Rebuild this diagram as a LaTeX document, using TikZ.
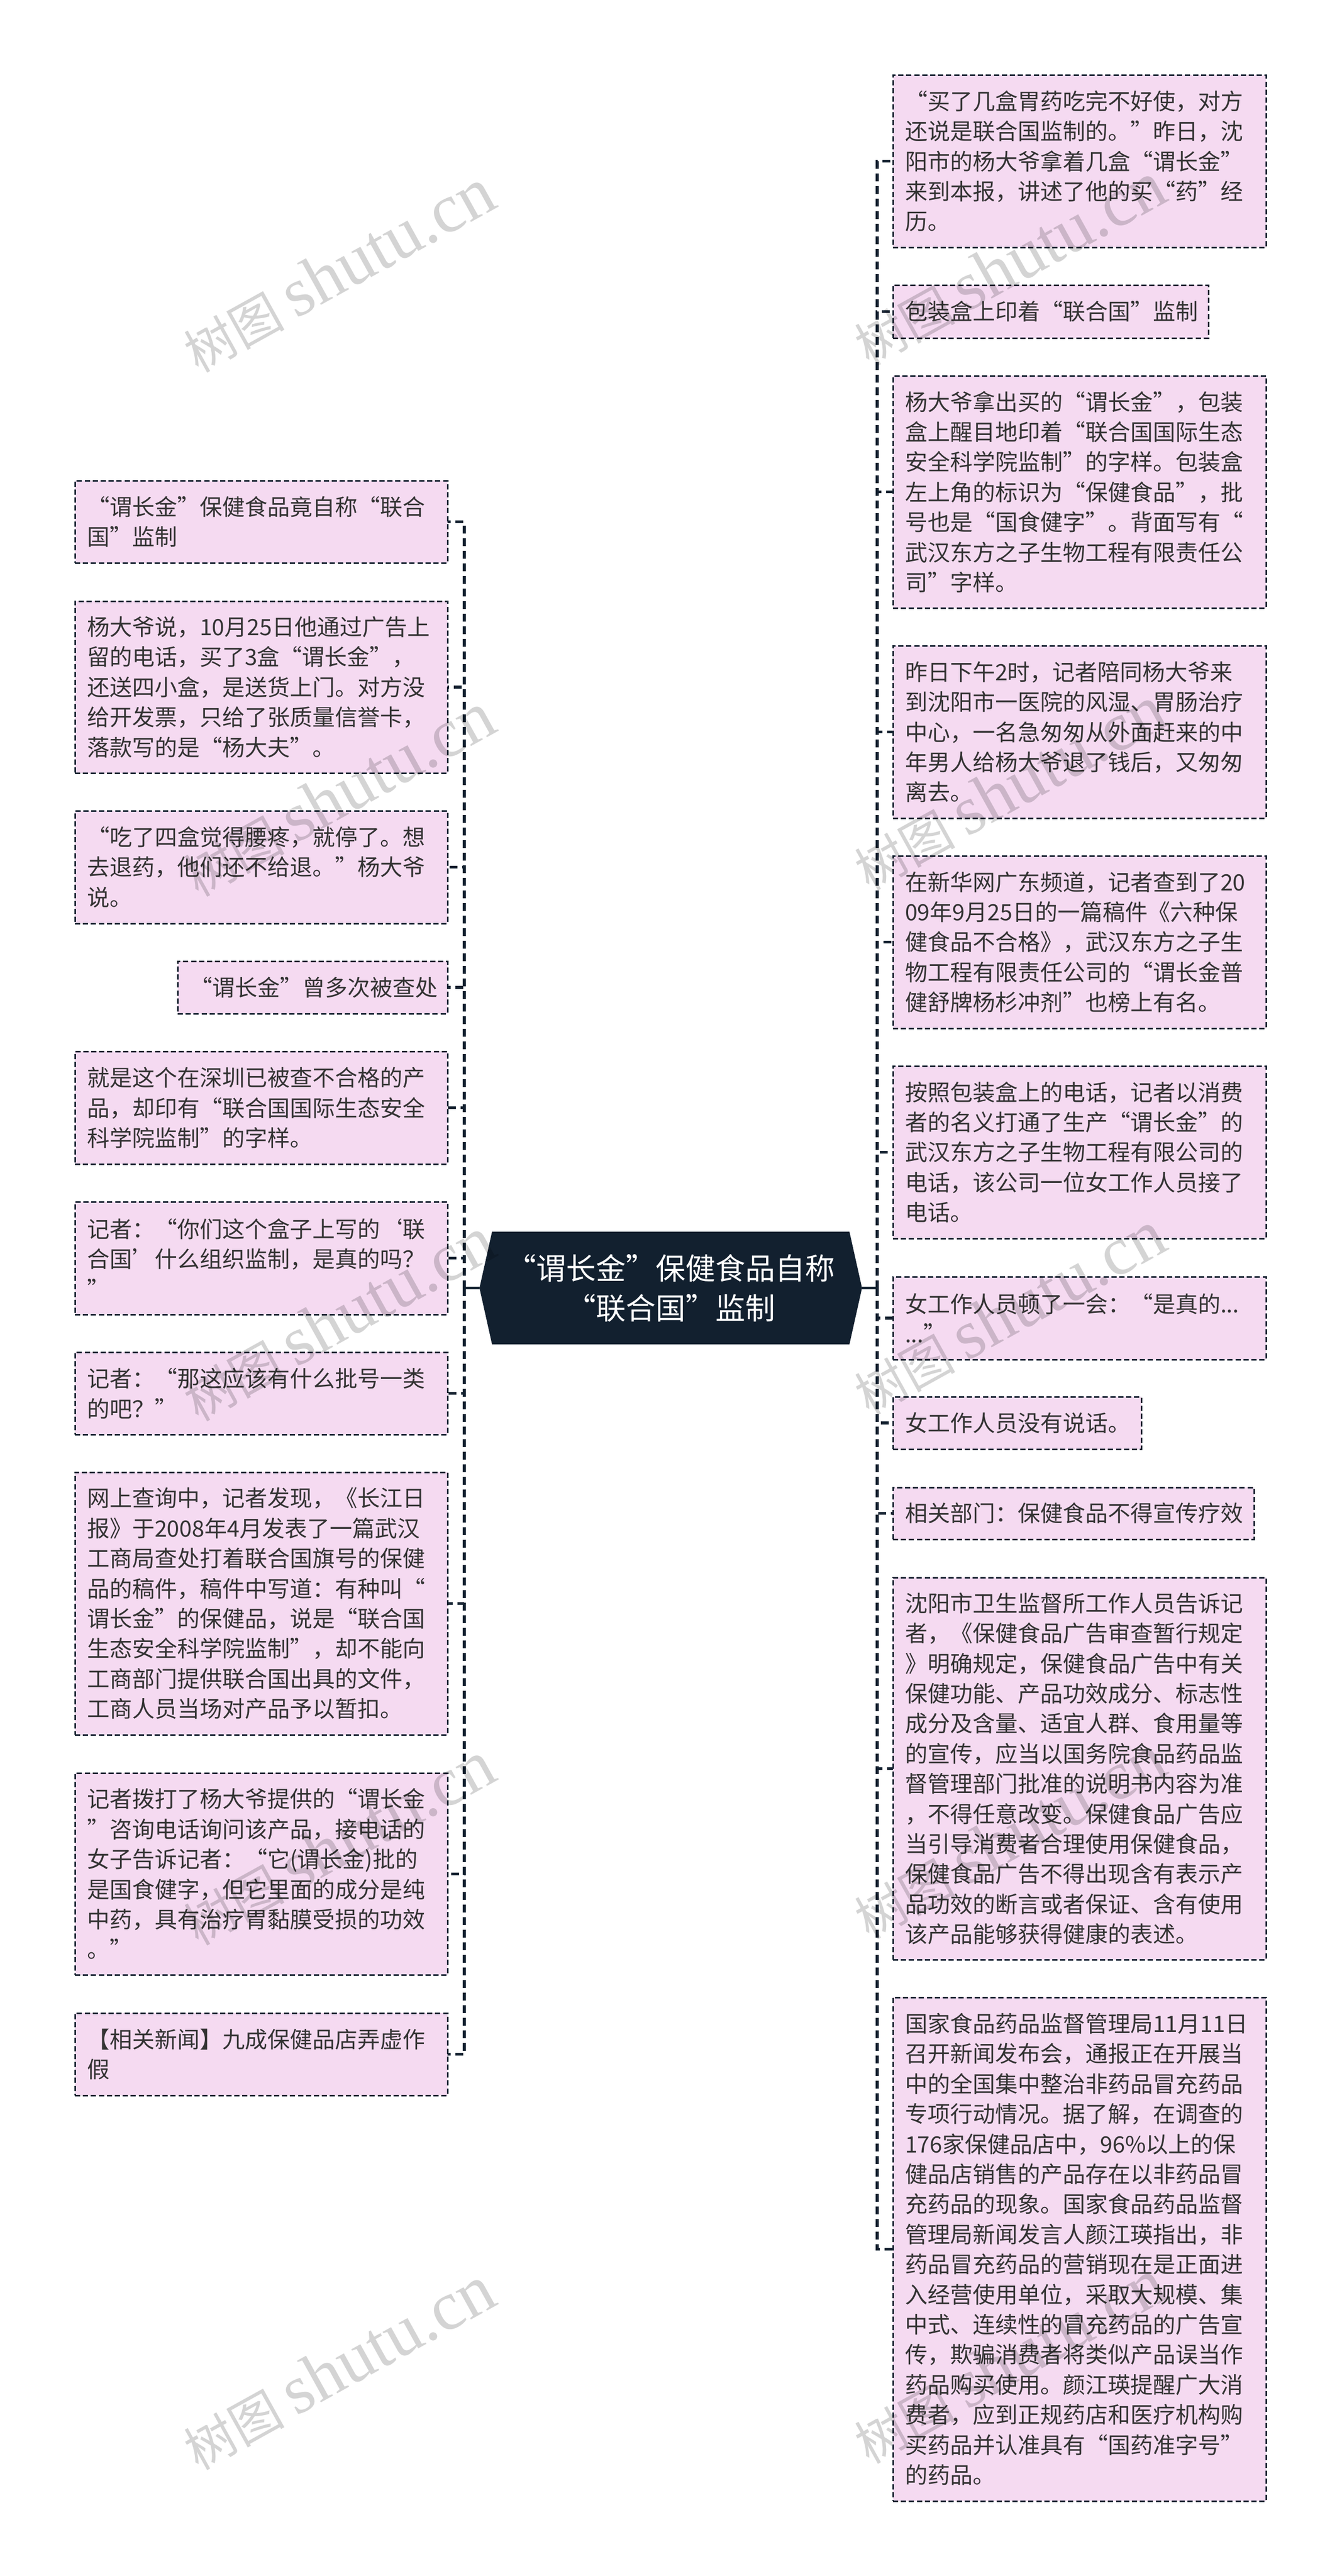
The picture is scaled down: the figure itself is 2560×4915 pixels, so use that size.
\documentclass[tikz,border=0pt]{standalone}
\usepackage{fontspec}
\setmainfont{Noto Sans CJK SC}
\newfontfamily\wmlatin{Liberation Serif}
\hfuzz=200pt
\hbadness=10000
\definecolor{ink}{HTML}{12202F}
\definecolor{boxfill}{HTML}{F5DAF1}
\definecolor{bodytext}{HTML}{333333}
\tikzset{
  x=0.5pt, y=-0.5pt,
  textbox/.style={rectangle, anchor=north west, draw=ink, fill=boxfill, text=bodytext, line width=1.5pt,
    dash pattern=on 5pt off 2.6pt, inner xsep=11.5pt, inner ysep=0pt, outer sep=0pt, align=left,
    font=\fontsize{21.5}{28.7}\selectfont},
  conn/.style={draw=ink, line width=2.6pt, dash pattern=on 7.5pt off 4.5pt},
  stub/.style={draw=ink, line width=2.6pt},
  title/.style={rectangle, text=white, align=center, inner sep=0pt, outer sep=0pt,
    minimum width=365pt, minimum height=107.5pt, font=\fontsize{28.5}{38}\selectfont},
  wmark/.style={rotate=29, text=black, text opacity=0.17, inner sep=0pt, font=\fontsize{48}{48}\selectfont},
}
\newcommand{\pbox}[6]{\node[textbox, minimum width={(#4-#2)*0.5pt}, minimum height={(#5-#3)*0.5pt}, text width={(#4-#2-46)*0.5pt}] (#1) at (#2,#3) {#6};}
\newcommand{\wm}[3]{\node[wmark] (#1) at (#2,#3) {树图 {\wmlatin\fontsize{66}{66}\selectfont shutu.cn}};}
\begin{document}
\begin{tikzpicture}
\useasboundingbox (0,0) rectangle (2560,4915);
\fill[white] (0,0) rectangle (2560,4915);
% centre
\fill[ink] (915,2457.5) -- (939,2350) -- (1621,2350) -- (1645,2457.5) -- (1621,2565) -- (939,2565) -- cycle;
\node[title] (hex) at (1280,2457.5) {“谓长金”保健食品自称\\“联合国”监制};
\coordinate (tl) at (886,2457.5);
\coordinate (tr) at (1674,2457.5);
% left
\pbox{L1}{143}{917}{854}{1074}{“谓长金”保健食品竟自称“联合\\国”监制}
\pbox{L2}{143}{1147}{854}{1475}{杨大爷说，10月25日他通过广告上\\留的电话，买了3盒“谓长金”，\\还送四小盒，是送货上门。对方没\\给开发票，只给了张质量信誉卡，\\落款写的是“杨大夫”。}
\pbox{L3}{143}{1547}{854}{1762}{“吃了四盒觉得腰疼，就停了。想\\去退药，他们还不给退。”杨大爷\\说。}
\pbox{L4}{339}{1834}{854}{1934}{“谓长金”曾多次被查处}
\pbox{L5}{143}{2006}{854}{2221}{就是这个在深圳已被查不合格的产\\品，却印有“联合国国际生态安全\\科学院监制”的字样。}
\pbox{L6}{143}{2293}{854}{2508}{记者：“你们这个盒子上写的‘联\\合国’什么组织监制，是真的吗？\\”}
\pbox{L7}{143}{2580}{854}{2737}{记者：“那这应该有什么批号一类\\的吧？”}
\pbox{L8}{143}{2809}{854}{3310}{网上查询中，记者发现，《长江日\\报》于2008年4月发表了一篇武汉\\工商局查处打着联合国旗号的保健\\品的稿件，稿件中写道：有种叫“\\谓长金”的保健品，说是“联合国\\生态安全科学院监制”，却不能向\\工商部门提供联合国出具的文件，\\工商人员当场对产品予以暂扣。}
\pbox{L9}{143}{3383}{854}{3768}{记者拨打了杨大爷提供的“谓长金\\”咨询电话询问该产品，接电话的\\女子告诉记者：“它(谓长金)批的\\是国食健字，但它里面的成分是纯\\中药，具有治疗胃黏膜受损的功效\\。”}
\pbox{L10}{143}{3841}{854}{3998}{【相关新闻】九成保健品店弄虚作\\假}
% right
\pbox{R1}{1704}{143}{2416}{472}{“买了几盒胃药吃完不好使，对方\\还说是联合国监制的。”昨日，沈\\阳市的杨大爷拿着几盒“谓长金”\\来到本报，讲述了他的买“药”经\\历。}
\pbox{R2}{1704}{544}{2306}{645}{包装盒上印着“联合国”监制}
\pbox{R3}{1704}{717}{2416}{1160}{杨大爷拿出买的“谓长金”，包装\\盒上醒目地印着“联合国国际生态\\安全科学院监制”的字样。包装盒\\左上角的标识为“保健食品”，批\\号也是“国食健字”。背面写有“\\武汉东方之子生物工程有限责任公\\司”字样。}
\pbox{R4}{1704}{1232}{2416}{1561}{昨日下午2时，记者陪同杨大爷来\\到沈阳市一医院的风湿、胃肠治疗\\中心，一名急匆匆从外面赶来的中\\年男人给杨大爷退了钱后，又匆匆\\离去。}
\pbox{R5}{1704}{1633}{2416}{1962}{在新华网广东频道，记者查到了20\\09年9月25日的一篇稿件《六种保\\健食品不合格》，武汉东方之子生\\物工程有限责任公司的“谓长金普\\健舒牌杨杉冲剂”也榜上有名。}
\pbox{R6}{1704}{2034}{2416}{2363}{按照包装盒上的电话，记者以消费\\者的名义打通了生产“谓长金”的\\武汉东方之子生物工程有限公司的\\电话，该公司一位女工作人员接了\\电话。}
\pbox{R7}{1704}{2436}{2416}{2594}{女工作人员顿了一会：“是真的...\\...”}
\pbox{R8}{1704}{2665}{2178}{2765}{女工作人员没有说话。}
\pbox{R9}{1704}{2838}{2393}{2937}{相关部门：保健食品不得宣传疗效}
\pbox{R10}{1704}{3010}{2416}{3739}{沈阳市卫生监督所工作人员告诉记\\者，《保健食品广告审查暂行规定\\》明确规定，保健食品广告中有关\\保健功能、产品功效成分、标志性\\成分及含量、适宜人群、食用量等\\的宣传，应当以国务院食品药品监\\督管理部门批准的说明书内容为准\\，不得任意改变。保健食品广告应\\当引导消费者合理使用保健食品，\\保健食品广告不得出现含有表示产\\品功效的断言或者保证、含有使用\\该产品能够获得健康的表述。}
\pbox{R11}{1704}{3811}{2416}{4772}{国家食品药品监督管理局11月11日\\召开新闻发布会，通报正在开展当\\中的全国集中整治非药品冒充药品\\专项行动情况。据了解，在调查的\\176家保健品店中，96\%以上的保\\健品店销售的产品存在以非药品冒\\充药品的现象。国家食品药品监督\\管理局新闻发言人颜江瑛指出，非\\药品冒充药品的营销现在是正面进\\入经营使用单位，采取大规模、集\\中式、连续性的冒充药品的广告宣\\传，欺骗消费者将类似产品误当作\\药品购买使用。颜江瑛提醒广大消\\费者，应到正规药店和医疗机构购\\买药品并认准具有“国药准字号”\\的药品。}
% connectors
\draw[stub] (hex.west) -- (tl);
\draw[stub] (hex.east) -- (tr);
\foreach \n in {L1,L2,L3,L4,L5,L6,L7,L8,L9,L10} \draw[conn] (tl) |- (\n.east);
\foreach \n in {R1,R2,R3,R4,R5,R6,R7,R8,R9,R10,R11} \draw[conn] (tr) |- (\n.west);
% watermarks
\wm{w1}{646}{516}
\wm{w2}{646}{1516.5}
\wm{w3}{646}{2517}
\wm{w4}{646}{3517.5}
\wm{w5}{646}{4518}
\wm{w6}{1926}{504}
\wm{w7}{1926}{1504.5}
\wm{w8}{1926}{2505}
\wm{w9}{1926}{3505.5}
\wm{w10}{1926}{4506}
\end{tikzpicture}
\end{document}
